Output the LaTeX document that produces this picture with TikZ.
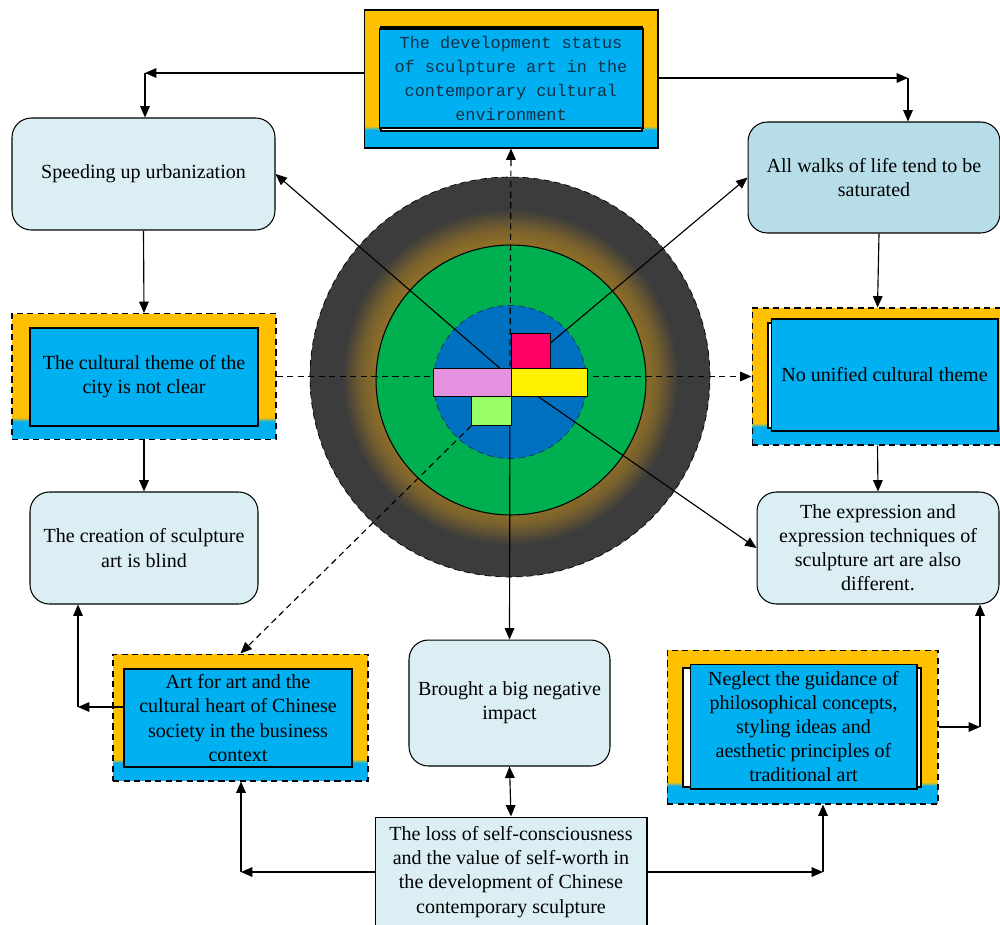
\documentclass[tikz,border=0pt]{standalone}
\usepackage{fontspec}
\setmainfont{Liberation Serif}
\setmonofont{Liberation Mono}
\usetikzlibrary{positioning,arrows.meta,calc}
\definecolor{frameorange}{HTML}{FFC000}
\definecolor{skyblue}{HTML}{00B0F0}
\definecolor{paleblue}{HTML}{DAEEF3}
\definecolor{mistblue}{HTML}{B7DEE8}
\definecolor{darkring}{HTML}{3C3C3C}
\definecolor{halogold}{HTML}{8C6D28}
\definecolor{grassgreen}{HTML}{00B050}
\definecolor{corblue}{HTML}{0070C0}
\definecolor{hotpink}{HTML}{FF0066}
\definecolor{orchid}{HTML}{E691E0}
\definecolor{limegreen}{HTML}{99FF66}
\definecolor{navytext}{HTML}{10314A}
\pgfdeclareradialshading{halo}{\pgfpoint{0bp}{0bp}}{color(0bp)=(halogold); color(17bp)=(halogold); color(18.5bp)=(halogold!75!darkring); color(21bp)=(darkring); color(50bp)=(darkring)}
\pgfdeclarelayer{back}
\pgfdeclarelayer{mid}
\pgfsetlayers{back,mid,main}

\begin{document}
\begin{tikzpicture}[
    x=0.02cm, y=-0.02cm,
    txt/.style={font=\fontsize{11.4}{13.7}\selectfont, align=center},
    dashline/.style={dash pattern=on 3.5pt off 2.5pt},
    roundbox/.style={txt, draw, line width=0.6pt, rounded corners=11pt, fill=paleblue, inner sep=0pt},
    framebox/.style={draw, dashline, line width=0.6pt, fill=frameorange, inner sep=0pt,
      path picture={
        \fill[skyblue] (path picture bounding box.south west) rectangle ([yshift=0.36cm]path picture bounding box.south east);
        \shade[top color=frameorange, bottom color=skyblue] ([yshift=0.36cm]path picture bounding box.south west) rectangle ([yshift=0.44cm]path picture bounding box.south east);
      }},
    innerbox/.style={txt, draw, line width=0.6pt, fill=skyblue, inner sep=0pt},
    plate/.style={draw, line width=0.6pt, fill=white},
    chip/.style={draw, line width=0.6pt, inner sep=0pt, anchor=north west},
    arr/.style={-{Triangle[length=6.5pt,width=5.5pt]}, line width=0.65pt},
    dbl/.style={{Triangle[length=6.5pt,width=5.5pt]}-{Triangle[length=6.5pt,width=5.5pt]}, line width=0.65pt}
  ]
    \useasboundingbox (0,0) rectangle (1000,924);

    % centre rings
    \begin{pgfonlayer}{back}
      \node[circle, draw, dashline, shading=halo, minimum size=8cm, inner sep=0pt] (ring) at (510,377) {};
      \node[circle, draw, line width=0.6pt, fill=grassgreen, minimum size=5.4cm, inner sep=0pt] (lawn) at (511,380) {};
      \node[circle, draw=corblue!50!black, dashline, fill=corblue, minimum size=3.06cm, inner sep=0pt] (core) at (510,382) {};
    \end{pgfonlayer}

    \node[chip, fill=hotpink, minimum width=0.78cm, minimum height=0.70cm] (pink) at (511,333) {};
    \node[chip, fill=yellow, minimum width=1.52cm, minimum height=0.56cm] (sun) at (511,368) {};
    \node[chip, fill=orchid, minimum width=1.56cm, minimum height=0.56cm] (violet) at (433,368) {};
    \node[chip, fill=limegreen, minimum width=0.80cm, minimum height=0.58cm] (lime) at (471,396) {};

    % top
    \node[framebox, solid, minimum width=5.88cm, minimum height=2.76cm] (topframe) at (511,79) {};
    \draw[plate] (381,27) rectangle (642,131);
    \node[innerbox, minimum width=5.28cm, minimum height=1.98cm, font=\fontsize{9.6}{13.7}\selectfont\ttfamily, text=navytext] (topbox) at (511,78.5)
      {The development status\\of sculpture art in the\\contemporary cultural\\environment};

    % left column
    \node[roundbox, minimum width=5.26cm, minimum height=2.24cm] (urban) at (143.5,174) {Speeding up urbanization};
    \node[framebox, minimum width=5.28cm, minimum height=2.52cm] (themeframe) at (144,376.5) {};
    \node[innerbox, minimum width=4.56cm, minimum height=1.96cm] (themebox) at (144,377) {The cultural theme of the\\city is not clear};
    \node[roundbox, minimum width=4.56cm, minimum height=2.24cm] (blind) at (144,548) {The creation of sculpture\\art is blind};

    % right column
    \node[roundbox, fill=mistblue, minimum width=5.04cm, minimum height=2.22cm] (walks) at (874,177.5) {All walks of life tend to be\\saturated};
    \node[framebox, minimum width=5.02cm, minimum height=2.74cm] (unifiedframe) at (877.5,376.5) {};
    \draw[plate] (768,323) rectangle (996,428);
    \node[innerbox, minimum width=4.54cm, minimum height=2.24cm] (unifiedbox) at (884.5,375) {No unified cultural theme};
    \node[roundbox, minimum width=4.84cm, minimum height=2.24cm] (express) at (878,548)
      {The expression and\\expression techniques of\\sculpture art are also\\different.};

    % bottom row
    \node[framebox, minimum width=5.10cm, minimum height=2.54cm] (artframe) at (240.5,717.5) {};
    \node[innerbox, minimum width=4.56cm, minimum height=1.96cm] (artbox) at (238,718)
      {Art for art and the\\cultural heart of Chinese\\society in the business\\context};
    \node[roundbox, minimum width=4.02cm, minimum height=2.52cm] (brought) at (509.5,703) {Brought a big negative\\impact};
    \node[framebox, minimum width=5.42cm, minimum height=3.08cm] (neglectframe) at (802.5,727) {};
    \draw[plate] (683,668) rectangle (921,787);
    \node[innerbox, minimum width=4.54cm, minimum height=2.50cm] (neglectbox) at (803.5,726.5)
      {Neglect the guidance of\\philosophical concepts,\\styling ideas and\\aesthetic principles of\\traditional art};
    \node[txt, draw, line width=0.6pt, fill=paleblue, inner sep=0pt, minimum width=5.44cm, minimum height=2.20cm] (loss) at (511,872)
      {The loss of self-consciousness\\and the value of self-worth in\\the development of Chinese\\contemporary sculpture};

    % spokes from the centre
    \begin{pgfonlayer}{mid}
      \draw[arr, dashline] (ring.center) -- (topframe.south);
      \draw[arr] (ring.center) -- (brought.north);
      \draw[arr, dashline] (themeframe.east) -- (unifiedframe.west);
      \draw[arr] (ring.center) -- (urban.east);
      \draw[arr] (ring.center) -- (walks.west);
      \draw[arr] (ring.center) -- (express.west);
      \draw[arr, dashline] (lime.south west) -- (artframe.north);
    \end{pgfonlayer}

    % outer links
    \coordinate (tl) at (145,73);
    \coordinate (tr) at (908,78);
    \coordinate (bl) at (78,707);
    \coordinate (br) at (980,727);
    \coordinate (ll) at (241,872);
    \coordinate (lr) at (823,872);
    \draw[arr] (topframe.west |- tl) -- (tl);
    \draw[arr] (tl) -- (tl |- urban.north);
    \draw[arr] (topframe.east |- tr) -- (tr);
    \draw[arr] (tr) -- (tr |- walks.north);
    \draw[arr] (urban.south) -- (themeframe.north);
    \draw[arr] ([xshift=0.1cm]walks.south) -- (unifiedframe.north);
    \draw[arr] (themeframe.south) -- (blind.north);
    \draw[arr] (unifiedframe.south) -- (express.north);
    \draw[arr] (artbox.west |- bl) -- (bl);
    \draw[arr] (bl) -- (bl |- blind.south);
    \draw[arr] (neglectframe.east |- br) -- (br);
    \draw[arr] (br) -- (br |- express.south);
    \draw[dbl] (brought.south) -- (loss.north);
    \draw[arr] (loss.west) -- (ll);
    \draw[arr] (ll) -- (ll |- artframe.south);
    \draw[arr] (loss.east) -- (lr);
    \draw[arr] (lr) -- (lr |- neglectframe.south);
  \end{tikzpicture}
\end{document}
